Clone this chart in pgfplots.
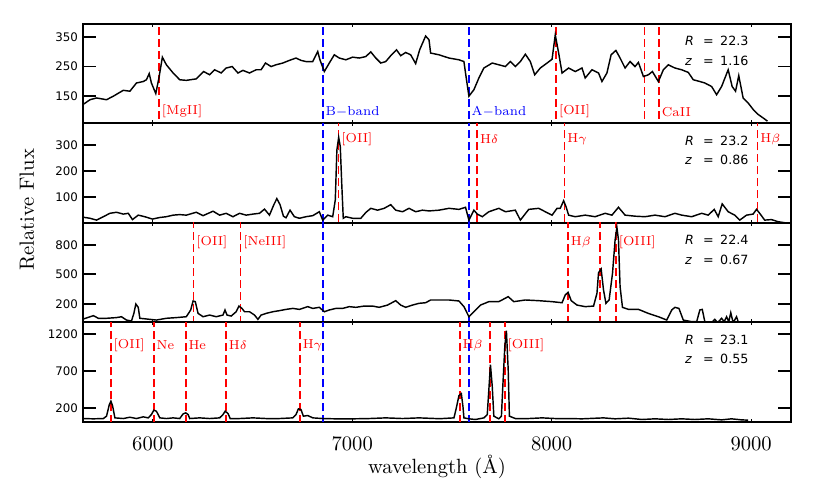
\documentclass[border=0pt]{standalone}
\usepackage{fontspec}
\usepackage{pgfplots}
\pgfplotsset{compat=1.18}
\newfontfamily\dejavu{DejaVu Sans}
\newcommand\lblfont{\fontsize{6.5}{7}\selectfont}
\newcommand\rzfont{\dejavu\fontsize{6.35}{7}\selectfont}
\newcommand\axfont{\fontsize{10.3}{12}\selectfont}

\pgfplotsset{
  panel/.style={scale only axis, width=354pt, height=49.75pt, anchor=north west,
    xmin=5650, xmax=9200, xtick={6000,7000,8000,9000}, xticklabels={},
    tick align=inside, axis line style={line width=1pt},
    major tick length=6.5pt,
    xtick style={/pgfplots/major tick length=1.5pt, line width=0.6pt, black},
    ytick style={line width=0.9pt, black},
    yticklabel style={font=\dejavu\fontsize{5.9}{6}\selectfont, inner sep=0pt, xshift=-2.3pt},
    xticklabel style={font=\axfont, yshift=-3.8pt}},
  spec/.style={black, line width=0.72pt, no marks},
  rl/.style={red, line width=0.8pt, dash pattern=on 4pt off 2pt, no marks},
  bl/.style={blue, line width=0.8pt, dash pattern=on 4pt off 2pt, no marks},
}
% vertical line at a wavelength
\newcommand\vl[2]{\addplot[#1] coordinates {(#2,-500) (#2,5000)};}
% line label
\newcommand\lab[4]{\node[anchor=west, inner sep=0pt, xshift=1.2pt, text=#1, font=\lblfont]
  at ({axis cs:#2,0}|-{rel axis cs:0,#3}) {#4};}
% magnitude and redshift
\newcommand\rz[2]{%
  \node[anchor=west, inner sep=0pt, font=\rzfont] at (rel axis cs:0.850,0.829)
    {\makebox[9pt][l]{\textit{R}}=\hspace{3.2pt}#1};
  \node[anchor=west, inner sep=0pt, font=\rzfont] at (rel axis cs:0.850,0.630)
    {\makebox[9pt][l]{\textit{z}}=\hspace{3.2pt}#2};}

\begin{document}
\begin{tikzpicture}
\path (0,0) rectangle (415pt,249pt);

% panel 1
\begin{axis}[panel, at={(41.5pt,237pt)}, ymin=56, ymax=395,
  ytick={150,250,350}, yticklabels={150,250,350}]
\vl{rl}{6032} \vl{rl}{8023} \vl{rl}{8465} \vl{rl}{8538}
\vl{bl}{6852} \vl{bl}{7585}
\addplot[spec] coordinates {
(5651,121)(5685,137)(5718,143)(5768,137)(5802,149)(5852,169)(5885,166)(5918,194)
(5952,199)(5968,205)(5982,226)(5993,194)(6015,158)(6032,216)(6048,282)(6068,256)
(6102,228)(6135,205)(6168,203)(6218,208)(6255,233)(6285,222)(6310,239)(6343,228)
(6368,245)(6398,250)(6427,228)(6452,237)(6485,228)(6518,239)(6543,239)(6565,262)
(6593,250)(6618,256)(6652,262)(6685,271)(6718,279)(6743,271)(6768,267)(6802,267)
(6827,301)(6838,273)(6860,233)(6885,262)(6910,290)(6935,279)(6968,273)(7002,282)
(7035,279)(7068,284)(7093,300)(7118,279)(7143,262)(7168,267)(7193,287)(7222,307)
(7243,287)(7268,298)(7293,290)(7318,260)(7338,307)(7368,354)(7385,341)(7393,296)
(7435,290)(7485,279)(7535,273)(7560,267)(7568,228)(7585,149)(7610,171)(7635,211)
(7660,245)(7702,262)(7735,256)(7768,250)(7793,267)(7818,250)(7843,267)(7868,292)
(7893,267)(7915,222)(7943,245)(7977,262)(8002,275)(8018,358)(8035,296)(8052,228)
(8085,245)(8118,233)(8152,245)(8168,211)(8202,239)(8235,228)(8252,199)(8277,228)
(8298,290)(8322,305)(8343,279)(8368,245)(8393,267)(8418,250)(8435,264)(8460,216)
(8485,222)(8505,233)(8535,199)(8560,239)(8585,256)(8618,245)(8652,239)(8685,230)
(8710,205)(8743,199)(8768,194)(8802,182)(8827,154)(8852,182)(8885,239)(8905,182)
(8922,166)(8938,219)(8960,143)(8985,126)(9010,104)(9035,87)(9060,75)(9082,64)};
\lab{red}{6032}{0.119}{[MgII]}
\lab{blue}{6852}{0.119}{B$-$band}
\lab{blue}{7585}{0.119}{A$-$band}
\lab{red}{8023}{0.119}{[OII]}
\lab{red}{8538}{0.119}{CaII}
\rz{22.3}{1.16}
\end{axis}

% panel 2
\begin{axis}[panel, at={(41.5pt,187.25pt)}, ymin=2, ymax=382,
  ytick={100,200,300}, yticklabels={100,200,300}]
\vl{rl}{6932} \vl{rl}{7627} \vl{rl}{8065} \vl{rl}{9032}
\vl{bl}{6852} \vl{bl}{7585}
\addplot[spec] coordinates {
(5652,24)(5685,20)(5718,13)(5752,26)(5785,39)(5818,43)(5852,36)(5877,39)(5898,15)
(5927,32)(5960,26)(5998,17)(6035,23)(6068,26)(6102,32)(6135,34)(6168,32)(6218,43)
(6252,30)(6302,47)(6335,32)(6368,39)(6402,26)(6435,39)(6468,32)(6502,36)(6535,39)
(6560,55)(6585,32)(6607,72)(6622,95)(6638,72)(6655,28)(6668,22)(6688,51)(6710,26)
(6735,20)(6768,26)(6802,30)(6835,45)(6852,13)(6877,32)(6902,26)(6915,90)(6923,281)
(6932,329)(6940,294)(6948,141)(6955,20)(6968,26)(7002,20)(7043,20)(7068,42)(7093,58)
(7127,51)(7160,58)(7193,72)(7218,51)(7252,45)(7285,58)(7318,45)(7352,51)(7385,48)
(7435,51)(7485,58)(7535,54)(7568,62)(7585,13)(7610,51)(7627,36)(7652,26)(7685,45)
(7735,58)(7768,45)(7818,51)(7843,13)(7885,54)(7935,58)(7968,45)(8002,32)(8027,58)
(8043,58)(8060,87)(8072,64)(8085,32)(8118,26)(8168,32)(8218,26)(8268,39)(8302,32)
(8335,62)(8368,32)(8418,28)(8468,26)(8518,32)(8568,26)(8618,39)(8652,32)(8702,26)
(8752,39)(8785,32)(8815,54)(8835,26)(8855,75)(8885,45)(8918,32)(8943,13)(8977,32)
(9010,36)(9027,54)(9043,39)(9068,13)(9102,15)(9135,7)(9168,3)};
\lab{red}{6932}{0.841}{[OII]}
\lab{red}{7627}{0.841}{H$\delta$}
\lab{red}{8065}{0.841}{H$\gamma$}
\lab{red}{9032}{0.841}{H$\beta$}
\rz{23.2}{0.86}
\end{axis}

% panel 3
\begin{axis}[panel, at={(41.5pt,137.5pt)}, ymin=8, ymax=1025,
  ytick={200,500,800}, yticklabels={200,500,800}]
\vl{rl}{6205} \vl{rl}{6440} \vl{rl}{8082} \vl{rl}{8243} \vl{rl}{8323}
\vl{bl}{6852} \vl{bl}{7585}
\addplot[spec] coordinates {
(5652,44)(5677,61)(5702,78)(5727,51)(5768,51)(5818,58)(5843,67)(5868,33)(5893,23)
(5905,101)(5915,197)(5927,163)(5935,51)(5968,44)(6018,33)(6068,51)(6118,58)(6168,67)
(6190,136)(6202,228)(6213,221)(6227,101)(6252,67)(6285,84)(6318,67)(6352,84)(6362,136)
(6372,84)(6393,74)(6418,118)(6432,176)(6447,152)(6460,118)(6485,118)(6510,84)(6527,40)
(6543,84)(6568,101)(6602,118)(6635,129)(6668,142)(6702,152)(6735,142)(6777,170)
(6802,152)(6835,163)(6860,118)(6885,136)(6918,152)(6952,152)(6985,170)(7018,163)
(7060,176)(7102,176)(7135,163)(7177,186)(7218,231)(7243,186)(7268,163)(7302,186)
(7335,204)(7368,210)(7393,238)(7435,238)(7485,238)(7535,228)(7560,170)(7585,67)
(7610,118)(7643,186)(7685,221)(7735,221)(7782,272)(7810,221)(7868,238)(7935,231)
(8002,221)(8052,210)(8068,289)(8082,317)(8098,231)(8127,186)(8168,170)(8210,176)
(8227,306)(8235,517)(8248,555)(8260,340)(8272,204)(8288,238)(8305,510)(8318,851)
(8327,981)(8335,851)(8343,374)(8355,163)(8385,142)(8435,142)(8485,101)(8535,67)
(8577,33)(8602,136)(8618,163)(8638,152)(8660,33)(8702,16)(8727,16)(8743,136)(8755,142)
(8768,16)(8802,6)(8818,40)(8832,6)(8852,51)(8865,16)(8877,67)(8888,16)(8898,108)
(8910,6)(8927,67)(8938,0)};
\lab{red}{6205}{0.809}{[OII]}
\lab{red}{6440}{0.809}{[NeIII]}
\lab{red}{8082}{0.809}{H$\beta$}
\lab{red}{8323}{0.809}{[OIII]}
\rz{22.4}{0.67}
\end{axis}

% panel 4
\begin{axis}[panel, at={(41.5pt,87.75pt)}, ymin=8, ymax=1359,
  ytick={200,700,1200}, yticklabels={200,700,1200},
  xticklabels={6000,7000,8000,9000}]
\vl{rl}{5790} \vl{rl}{6005} \vl{rl}{6165} \vl{rl}{6368} \vl{rl}{6738}
\vl{rl}{7540} \vl{rl}{7690} \vl{rl}{7765}
\vl{bl}{6852} \vl{bl}{7585}
\addplot[spec] coordinates {
(5652,55)(5702,51)(5752,55)(5768,87)(5782,245)(5790,290)(5798,231)(5810,64)(5852,55)
(5885,73)(5918,55)(5952,78)(5977,64)(5993,109)(6005,168)(6018,155)(6035,64)(6068,55)
(6102,64)(6135,55)(6152,118)(6165,132)(6177,109)(6185,55)(6235,64)(6285,55)(6335,64)
(6352,109)(6363,155)(6377,123)(6388,55)(6435,55)(6502,64)(6568,55)(6635,55)(6702,64)
(6718,109)(6730,186)(6743,177)(6755,87)(6777,96)(6802,64)(6852,55)(6918,51)(7002,51)
(7085,55)(7168,64)(7252,55)(7335,64)(7418,55)(7452,55)(7510,64)(7522,200)(7535,366)
(7547,393)(7555,222)(7560,64)(7585,51)(7618,42)(7660,64)(7677,109)(7685,447)(7693,785)
(7702,492)(7710,87)(7735,51)(7748,87)(7755,492)(7765,1032)(7773,1248)(7782,717)
(7788,87)(7818,55)(7885,55)(7952,64)(8018,55)(8085,55)(8152,51)(8260,64)(8318,51)
(8385,60)(8452,42)(8518,51)(8585,42)(8652,51)(8718,42)(8785,51)(8852,37)(8902,51)
(8952,37)(8985,33)};
\lab{red}{5790}{0.774}{[OII]}
\lab{red}{6005}{0.774}{Ne}
\lab{red}{6165}{0.774}{He}
\lab{red}{6368}{0.774}{H$\delta$}
\lab{red}{6738}{0.774}{H$\gamma$}
\lab{red}{7540}{0.774}{H$\beta$}
\lab{red}{7765}{0.774}{[OIII]}
\rz{23.1}{0.55}
\end{axis}

\node[rotate=90, font=\axfont\addfontfeatures{LetterSpace=7}] at (13.5pt,144pt) {Relative Flux};
\node[font=\axfont] at (218.5pt,15.75pt) {wavelength (Å)};
\end{tikzpicture}
\end{document}
